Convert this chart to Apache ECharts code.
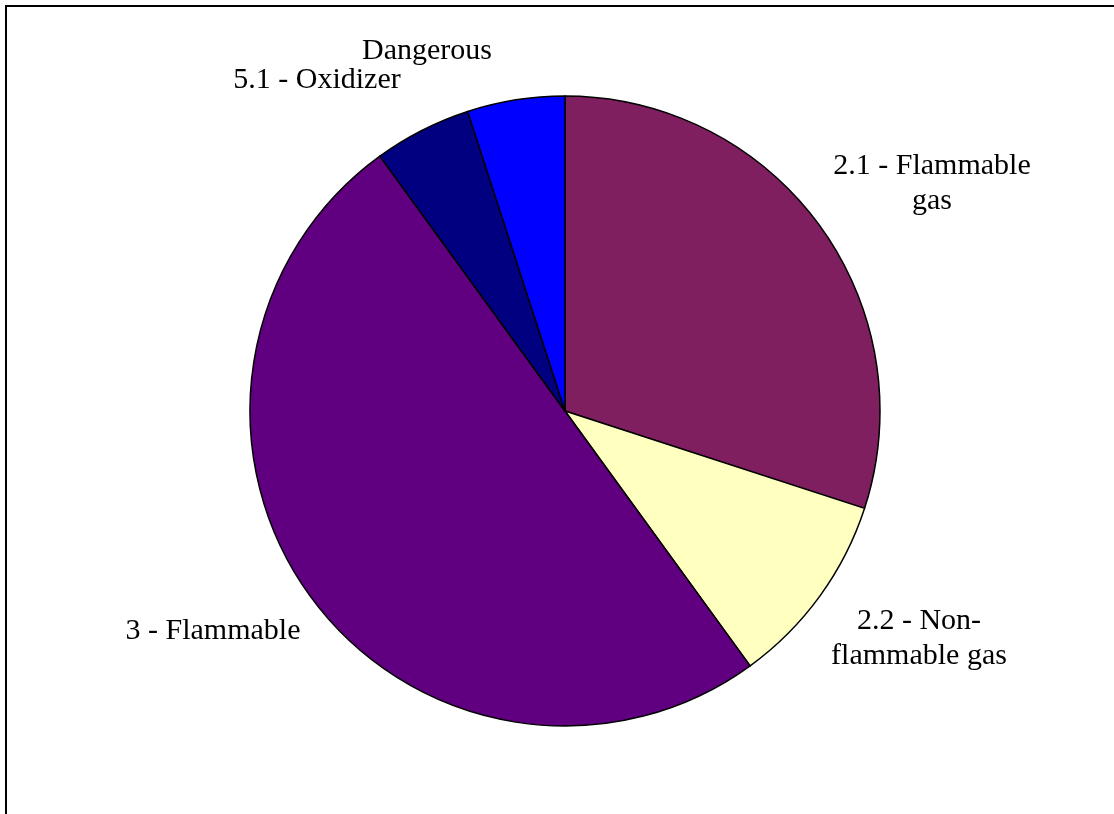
<!DOCTYPE html>
<html>
<head>
<meta charset="utf-8">
<script src="https://cdn.jsdelivr.net/npm/echarts@6/dist/echarts.min.js"></script>
<style>
html,body{margin:0;padding:0;background:#fff;}
#chart{width:1114px;height:814px;}
</style>
</head>
<body>
<div id="chart"></div>
<script>
// Data
var categories = ['2.1 - Flammable\ngas', '2.2 - Non-\nflammable gas', '3 - Flammable', '5.1 - Oxidizer', 'Dangerous'];
var values = [30, 10, 50, 5, 5];
var colors = ['#7F1F5F', '#FFFFC0', '#600080', '#000080', '#0000FF'];

// Label centres (layout only)
var labelCenters = [[932, 184], [919, 639], [213, 631], [317, 80], [427, 51]];

var chart = echarts.init(document.getElementById('chart'), null, {renderer: 'canvas'});
chart.setOption({
  backgroundColor: '#fff',
  animation: false,
  graphic: [{
    type: 'rect',
    shape: {x: 6, y: 6, width: 1300, height: 1100},
    style: {fill: 'none', stroke: '#000', lineWidth: 2},
    silent: true
  }],
  series: [{
    type: 'pie',
    center: [565, 411],
    radius: [0, 315],
    startAngle: 90,
    clockwise: true,
    avoidLabelOverlap: false,
    data: categories.map(function (c, i) {
      return {name: c, value: values[i], itemStyle: {color: colors[i]}};
    }),
    itemStyle: {borderColor: '#000', borderWidth: 1.5},
    label: {
      show: true,
      position: 'outside',
      formatter: '{b}',
      fontFamily: 'Liberation Serif',
      fontSize: 30,
      lineHeight: 35,
      color: '#000',
      align: 'center'
    },
    labelLine: {show: false},
    labelLayout: function (p) {
      var c = labelCenters[p.dataIndex];
      return {x: c[0], y: c[1], align: 'center', verticalAlign: 'middle'};
    },
    emphasis: {disabled: true}
  }]
});
</script>
</body>
</html>
